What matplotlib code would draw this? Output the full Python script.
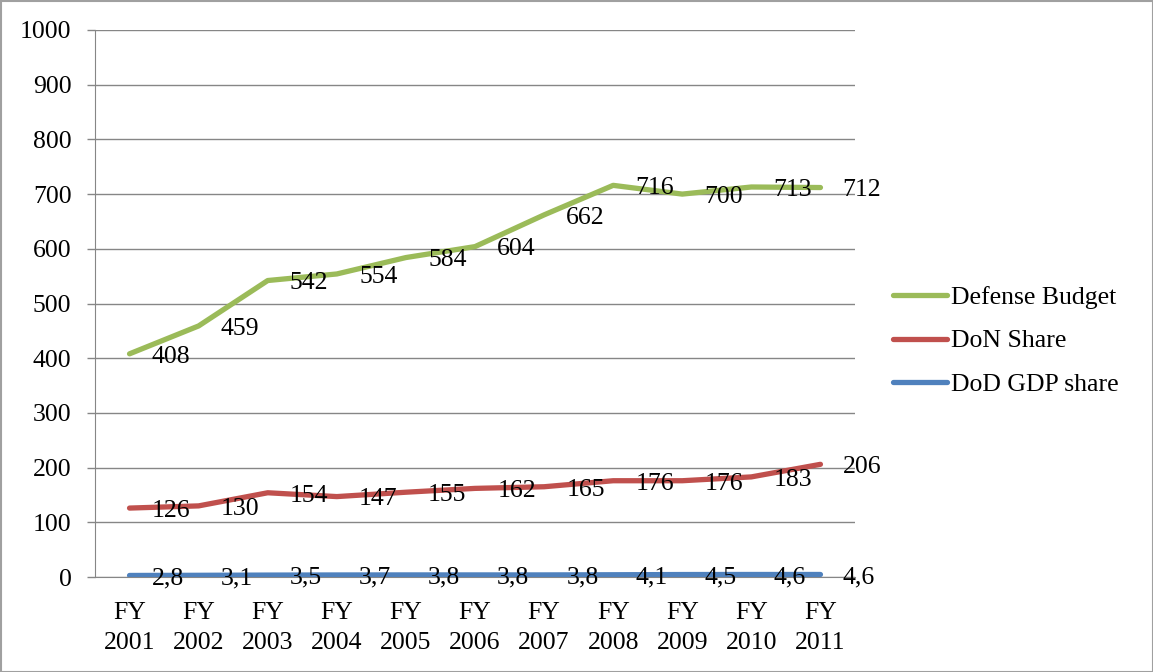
import matplotlib
matplotlib.use("Agg")
import matplotlib.pyplot as plt
from matplotlib.patches import Rectangle

plt.rcParams['font.family'] = ['Liberation Serif', 'DejaVu Serif']

categories = ["FY\n2001", "FY\n2002", "FY\n2003", "FY\n2004", "FY\n2005", "FY\n2006",
              "FY\n2007", "FY\n2008", "FY\n2009", "FY\n2010", "FY\n2011"]
defense_budget = [408, 459, 542, 554, 584, 604, 662, 716, 700, 713, 712]
don_share = [126, 130, 154, 147, 155, 162, 165, 176, 176, 183, 206]
dod_gdp_share = [2.8, 3.1, 3.5, 3.7, 3.8, 3.8, 3.8, 4.1, 4.5, 4.6, 4.6]

series = [
    ("Defense Budget", defense_budget, "#9BBB59", "{:.0f}"),
    ("DoN Share", don_share, "#C0504D", "{:.0f}"),
    ("DoD GDP share", dod_gdp_share, "#4F81BD", "{:.1f}"),
]

FS = 18.5
fig = plt.figure(figsize=(11.53, 6.72), dpi=100)
ax = fig.add_axes([95/1153, 1-577/672, (855-95)/1153, (577-30)/672])

x = list(range(len(categories)))
grid_c = "#868686"
for name, vals, col, fmt in series:
    ax.plot(x, vals, color=col, lw=3.8, solid_capstyle='round', label=name, zorder=3)
    for xi, v in zip(x, vals):
        txt = fmt.format(v).replace('.', ',')
        ax.annotate(txt, (xi, v), xytext=(16, -2), textcoords='offset points',
                    ha='left', va='center', fontsize=FS, color='black', zorder=4)

ax.set_xlim(-0.5, len(categories) - 0.5)
ax.set_ylim(0, 1000)
ax.set_yticks(range(0, 1001, 100))
ax.set_xticks(x)
ax.set_xticklabels(categories, fontsize=FS, linespacing=1.45)
ax.tick_params(axis='y', labelsize=FS, length=6, width=1, color=grid_c, pad=11)
ax.tick_params(axis='x', length=0, pad=18)
ax.yaxis.grid(True, color=grid_c, lw=1)
ax.set_axisbelow(True)
for s in ['top', 'right']:
    ax.spines[s].set_visible(False)
ax.spines['left'].set_color(grid_c)
ax.spines['bottom'].set_color(grid_c)

leg = fig.legend(loc='center left', bbox_to_anchor=(893/1153, 1-341/672), frameon=False,
                 fontsize=FS, handlelength=2.1, handletextpad=0.15, labelspacing=0.8,
                 borderpad=0, borderaxespad=0)

fig.patches.append(Rectangle((0.5/1153, 0.5/672), 1-1/1153, 1-1/672, transform=fig.transFigure,
                             fill=False, edgecolor="#A0A0A0", lw=1.5))

fig.savefig("out.png", dpi=100)
